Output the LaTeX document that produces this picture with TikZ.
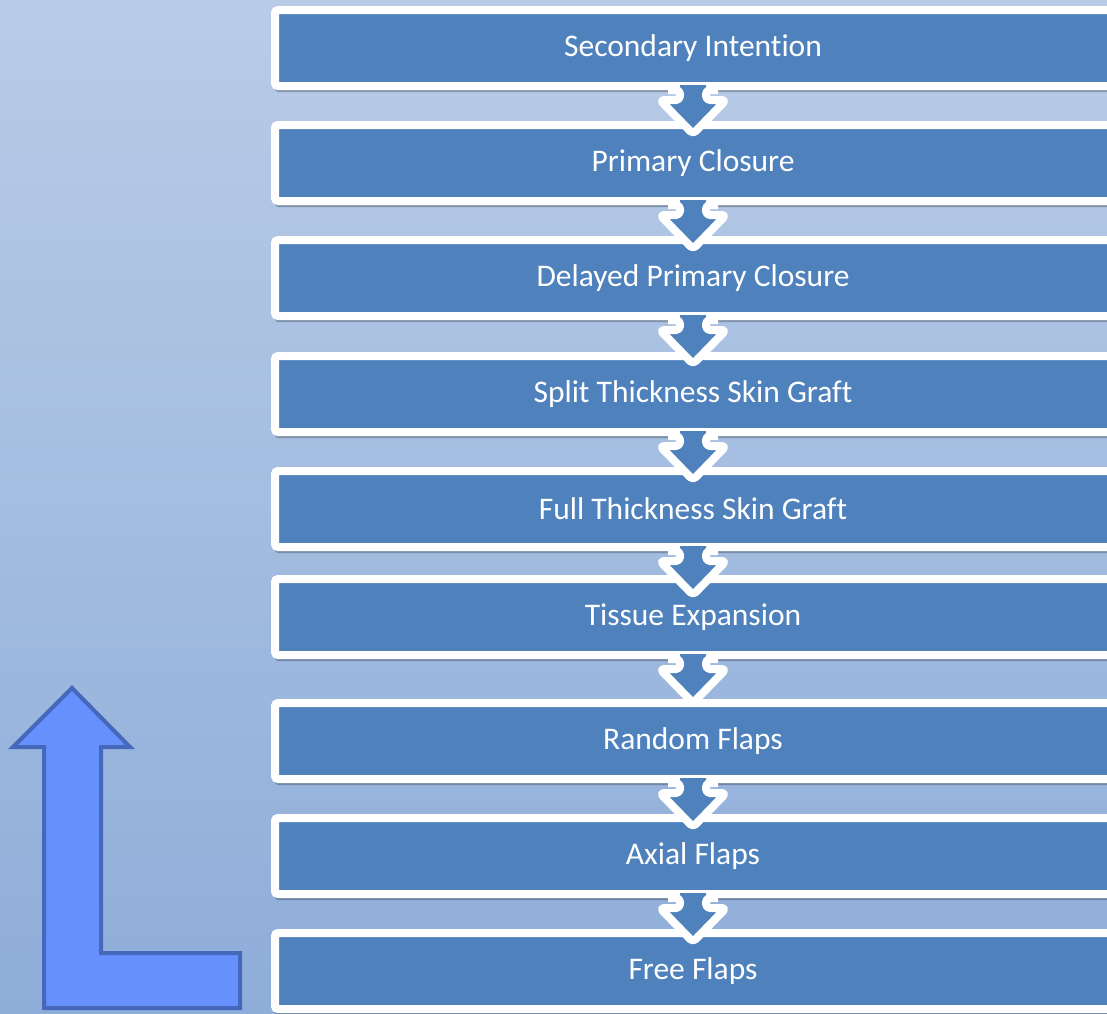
\documentclass[tikz,border=0pt]{standalone}
\usepackage{fontspec}
\setmainfont{Carlito}[Ligatures=NoCommon]
\usetikzlibrary{shadows}

\definecolor{bgtop}{HTML}{B9CCE7}
\definecolor{bgbot}{HTML}{8EADD9}
\definecolor{stepblue}{HTML}{4F81BD}
\definecolor{lfill}{HTML}{6590FE}
\definecolor{ledge}{HTML}{4668BA}

\tikzset{
  stepbox/.style={rectangle, rounded corners=3pt, draw=white, line width=8pt,
    fill=stepblue, text=white, minimum width=836pt, minimum height=76pt,
    font=\fontsize{31.5}{36}\selectfont,
    drop shadow={shadow xshift=0pt, shadow yshift=-6pt, opacity=0.25, fill=black}},
  chevfill/.style={fill=stepblue},
  chevline/.style={draw=white, line width=8pt, rounded corners=4pt, line join=round},
  bigarrow/.style={fill=lfill, draw=ledge, line width=4pt, line join=miter}
}

\begin{document}
\begin{tikzpicture}[x=1pt, y=-1pt]
    \useasboundingbox (0,0) rectangle (1107,1013);
    \clip (0,0) rectangle (1107,1013);
    % Background
    \shade[top color=bgtop, bottom color=bgbot] (0,0) rectangle (1107,1013);

    % Steps
    \foreach \i/\yc/\txt in {1/48/Secondary Intention, 2/163/Primary Closure,
        3/278/Delayed Primary Closure, 4/394/Split Thickness Skin Graft,
        5/509/Full Thickness Skin Graft, 6/617/Tissue Expansion,
        7/741/Random Flaps, 8/856/Axial Flaps, 9/971/Free Flaps}
      \node[stepbox] (b\i) at (693,\yc) {\txt};

    % Chevrons between steps
    \foreach \i in {1,...,8} {
      \fill[chevfill, shift={(b\i.south)}] (-13,-5) -- (-13,10) -- (-33,10) -- (0,44)
          -- (33,10) -- (13,10) -- (13,-5) -- cycle;
      \draw[chevline, shift={(b\i.south)}] (-25,0) -- (-13,0) -- (-13,10) -- (-33,10)
          -- (0,44) -- (33,10) -- (13,10) -- (13,0) -- (25,0);
    }

    % Upward arrow
    \draw[bigarrow] (44,1008) -- (44,747) -- (13,747) -- (72,688) -- (130,747)
        -- (101,747) -- (101,953) -- (240,953) -- (240,1008) -- cycle;
\end{tikzpicture}
\end{document}
